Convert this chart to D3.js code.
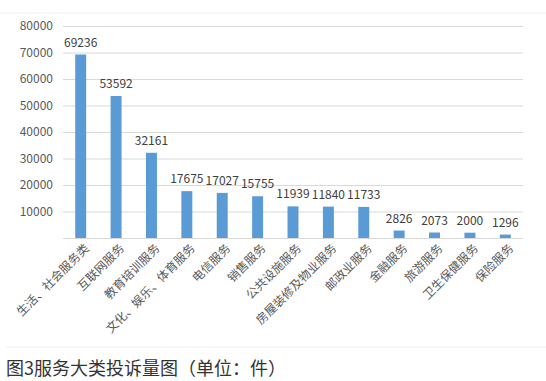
<!DOCTYPE html>
<html><head><meta charset="utf-8">
<script src="https://cdn.jsdelivr.net/npm/d3@7/dist/d3.min.js"></script>
<style>body{margin:0;background:#fff;}svg{display:block;}</style>
</head><body>
<script>
const categories = ["生活、社会服务类","互联网服务","教育培训服务","文化、娱乐、体育服务","电信服务","销售服务","公共设施服务","房屋装修及物业服务","邮政业服务","金融服务","旅游服务","卫生保健服务","保险服务"];
const values = [69236,53592,32161,17675,17027,15755,11939,11840,11733,2826,2073,2000,1296];
const yTicks = [0,10000,20000,30000,40000,50000,60000,70000,80000];
const caption = "图3服务大类投诉量图（单位：件）";

const W=546,H=381;
const svg=d3.select("body").append("svg").attr("width",W).attr("height",H);
const font="'Microsoft YaHei','Noto Sans CJK SC','DejaVu Sans',sans-serif";

svg.append("line").attr("x1",0).attr("x2",W).attr("y1",13).attr("y2",13).attr("stroke","#f0f0f0");
svg.append("line").attr("x1",6).attr("x2",W).attr("y1",347).attr("y2",347).attr("stroke","#eeeeee");

const x=d3.scaleBand().domain(categories).range([63,523]).paddingInner(0.69).paddingOuter(0.345);
const y=d3.scaleLinear().domain([0,80000]).range([238,26]);

const ga=svg.append("g").attr("transform","translate(63,0)")
  .call(d3.axisLeft(y).tickValues(yTicks).tickSize(-460).tickFormat(d=>d===0?"":d3.format("d")(d)).tickPadding(10));
ga.select(".domain").remove();
ga.selectAll(".tick line").attr("stroke","#d9d9d9");
ga.selectAll(".tick text").attr("fill","#595959").style("font-size","12px").style("font-family",font);

svg.selectAll("rect.bar").data(values).join("rect")
  .attr("x",(d,i)=>x(categories[i])).attr("width",x.bandwidth())
  .attr("y",d=>y(d)).attr("height",d=>y(0)-y(d)).attr("fill","#5b9bd5");

svg.selectAll("text.val").data(values).join("text")
  .attr("x",(d,i)=>x(categories[i])+x.bandwidth()/2).attr("y",d=>y(d)-8)
  .attr("text-anchor","middle").attr("fill","#404040").style("font-size","12px").style("font-family",font)
  .text(d=>d);

svg.selectAll("text.cat").data(categories).join("text")
  .attr("transform",d=>`translate(${x(d)+x.bandwidth()/2+6},${246}) rotate(-45)`)
  .attr("text-anchor","end").attr("dy","0.35em").attr("fill","#595959")
  .style("font-size","12px").style("font-family",font).text(d=>d);

svg.append("text").attr("x",6).attr("y",375).attr("fill","#333").style("font-size","18px").style("font-family",font).text(caption);
</script>
</body></html>
